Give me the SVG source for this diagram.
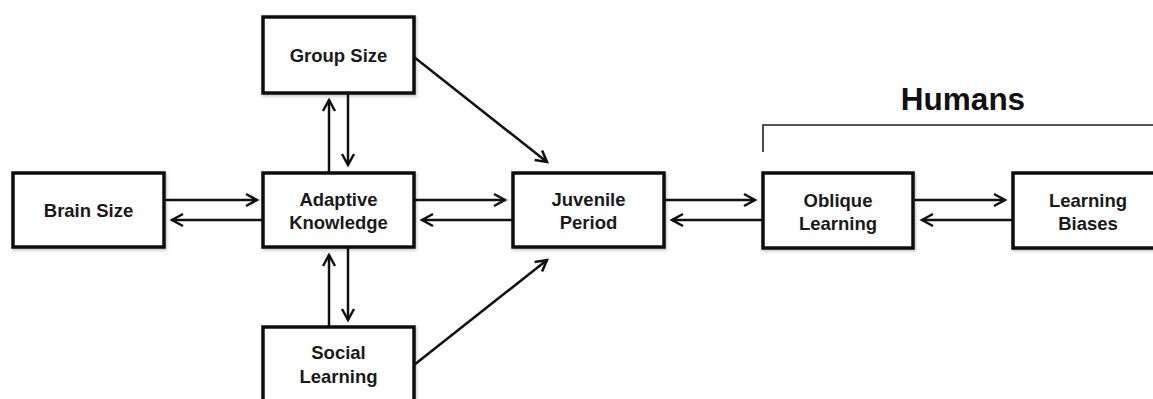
<svg xmlns="http://www.w3.org/2000/svg" width="1153" height="399" viewBox="0 0 1153 399">
<style>
.box{fill:#fff;stroke:#111;stroke-width:3.5}
.lbl{font-family:"Liberation Sans",Arial,sans-serif;font-weight:bold;font-size:18.5px;fill:#1a1a1a;text-anchor:middle}
.c{fill:none;stroke:#111;stroke-width:2.5}
</style>
<defs>
<filter id="sh" x="-10%" y="-10%" width="120%" height="120%"><feDropShadow dx="1" dy="1.5" stdDeviation="1.5" flood-color="#000" flood-opacity="0.25"/></filter>
<marker id="ah" markerUnits="userSpaceOnUse" markerWidth="16" markerHeight="16" viewBox="-14 -8 16 16" refX="0" refY="0" orient="auto" overflow="visible">
<path d="M-11,-6 L0,0 L-11,6" fill="none" stroke="#111" stroke-width="2.5"/>
</marker>
</defs>
<rect width="1153" height="399" fill="#fff"/>
<g id="brain"><rect class="box" filter="url(#sh)" x="13" y="173" width="151" height="74"/><text class="lbl" x="88.5" y="217">Brain Size</text></g>
<g id="group"><rect class="box" filter="url(#sh)" x="263" y="17" width="151" height="76"/><text class="lbl" x="338.5" y="62">Group Size</text></g>
<g id="adaptive"><rect class="box" filter="url(#sh)" x="263" y="173" width="151" height="74"/><text class="lbl" x="338.5" y="206">Adaptive</text><text class="lbl" x="338.5" y="229">Knowledge</text></g>
<g id="social"><rect class="box" filter="url(#sh)" x="263" y="327" width="151" height="90"/><text class="lbl" x="338.5" y="359">Social</text><text class="lbl" x="338.5" y="383">Learning</text></g>
<g id="juvenile"><rect class="box" filter="url(#sh)" x="513" y="173" width="151" height="74"/><text class="lbl" x="588.5" y="206">Juvenile</text><text class="lbl" x="588.5" y="229">Period</text></g>
<g id="oblique"><rect class="box" filter="url(#sh)" x="763" y="173" width="150" height="75"/><text class="lbl" x="838" y="207">Oblique</text><text class="lbl" x="838" y="230">Learning</text></g>
<g id="biases"><rect class="box" filter="url(#sh)" x="1013" y="173" width="160" height="75"/><text class="lbl" x="1088" y="207">Learning</text><text class="lbl" x="1088" y="230">Biases</text></g>
<g id="humans">
<text x="963" y="110" style="font-family:'Liberation Sans',Arial,sans-serif;font-weight:bold;font-size:31.5px;fill:#111;text-anchor:middle">Humans</text>
<path d="M763,152 V125 H1153" fill="none" stroke="#222" stroke-width="1.6"/>
</g>
<g id="connectors">
<line class="c" x1="164" y1="200" x2="257" y2="200" marker-end="url(#ah)"/>
<line class="c" x1="263" y1="220" x2="172" y2="220" marker-end="url(#ah)"/>
<line class="c" x1="414" y1="200" x2="505" y2="200" marker-end="url(#ah)"/>
<line class="c" x1="513" y1="220" x2="422" y2="220" marker-end="url(#ah)"/>
<line class="c" x1="664" y1="200" x2="755" y2="200" marker-end="url(#ah)"/>
<line class="c" x1="763" y1="220" x2="672" y2="220" marker-end="url(#ah)"/>
<line class="c" x1="913" y1="200" x2="1005" y2="200" marker-end="url(#ah)"/>
<line class="c" x1="1013" y1="220" x2="922" y2="220" marker-end="url(#ah)"/>
<line class="c" x1="329" y1="173" x2="329" y2="100" marker-end="url(#ah)"/>
<line class="c" x1="348" y1="93" x2="348" y2="165" marker-end="url(#ah)"/>
<line class="c" x1="329" y1="327" x2="329" y2="255" marker-end="url(#ah)"/>
<line class="c" x1="348" y1="247" x2="348" y2="320" marker-end="url(#ah)"/>
<line class="c" x1="414" y1="57" x2="547" y2="162" marker-end="url(#ah)"/>
<line class="c" x1="414" y1="365" x2="547" y2="260" marker-end="url(#ah)"/>
</g>
</svg>
